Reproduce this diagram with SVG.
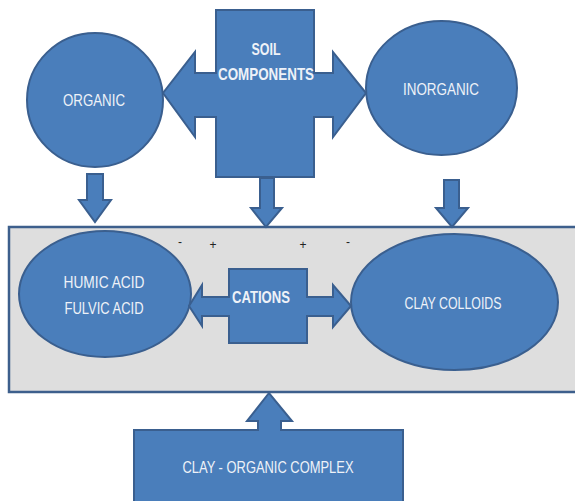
<svg xmlns="http://www.w3.org/2000/svg" width="575" height="501" viewBox="0 0 575 501">
<style>
.shape{fill:#4a7ebb;stroke:#3a5f8f;stroke-width:2}
.panel{fill:#dedede;stroke:#3d5f8c;stroke-width:2.5}
.lbl{font-family:"Liberation Sans",Arial,sans-serif;font-size:17px;fill:#eef2f8;text-anchor:middle}
.b{font-weight:bold}
.sign{font-family:"Liberation Sans",Arial,sans-serif;font-size:12px;fill:#222;text-anchor:middle}
</style>
<rect width="575" height="501" fill="#ffffff"/>
<g id="panel">
<rect class="panel" x="9" y="227" width="580" height="165"/>
</g>
<g id="connectors">
<path class="shape" d="M87,174 H103 V200 H111 L95,222 L79,200 H87 Z"/>
<path class="shape" d="M260,178 H274 V208 H282 L266,227 L251,208 H260 Z"/>
<path class="shape" d="M444,180 H459 V208 H468 L452,227 L436,208 H444 Z"/>
</g>
<g id="organic">
<ellipse class="shape" cx="95" cy="100" rx="68" ry="67"/>
<text class="lbl" x="94" y="106" textLength="62" lengthAdjust="spacingAndGlyphs">ORGANIC</text>
</g>
<g id="inorganic">
<ellipse class="shape" cx="441.5" cy="88" rx="75.5" ry="67"/>
<text class="lbl" x="441" y="95" textLength="76" lengthAdjust="spacingAndGlyphs">INORGANIC</text>
</g>
<g id="soil-components">
<path class="shape" d="M216,10 H314 V73 H333 V52 L366,93 L333,137 V117 H314 V177 H216 V117 H195 V137 L163,93 L195,52 V73 H216 Z"/>
<text class="lbl b" x="266" y="55" textLength="29" lengthAdjust="spacingAndGlyphs">SOIL</text>
<text class="lbl b" x="266" y="80" textLength="96" lengthAdjust="spacingAndGlyphs">COMPONENTS</text>
</g>
<g id="humic">
<ellipse class="shape" cx="105" cy="294" rx="86" ry="63"/>
<text class="lbl" x="104" y="288" textLength="81" lengthAdjust="spacingAndGlyphs">HUMIC ACID</text>
<text class="lbl" x="104" y="314" textLength="79" lengthAdjust="spacingAndGlyphs">FULVIC ACID</text>
</g>
<g id="clay-colloids">
<ellipse class="shape" cx="454.5" cy="302" rx="103.5" ry="68"/>
<text class="lbl" x="453" y="309" textLength="97" lengthAdjust="spacingAndGlyphs">CLAY COLLOIDS</text>
</g>
<g id="cations">
<path class="shape" d="M229,269 H307 V297 H333 V285 L351,306 L333,327 V316 H307 V343 H229 V316 H202 V326 L189,306 L202,285 V297 H229 Z"/>
<text class="lbl b" x="261" y="303" textLength="58" lengthAdjust="spacingAndGlyphs">CATIONS</text>
</g>
<g id="signs">
<text class="sign" x="180" y="246">-</text>
<text class="sign" x="213" y="249">+</text>
<text class="sign" x="303" y="249">+</text>
<text class="sign" x="348" y="246">-</text>
</g>
<g id="clay-organic-complex">
<path class="shape" d="M134,430 H258 V421 H247 L269,393 L292,421 H281 V430 H403 V510 H134 Z"/>
<text class="lbl" x="268" y="473" textLength="171" lengthAdjust="spacingAndGlyphs">CLAY - ORGANIC COMPLEX</text>
</g>
</svg>
